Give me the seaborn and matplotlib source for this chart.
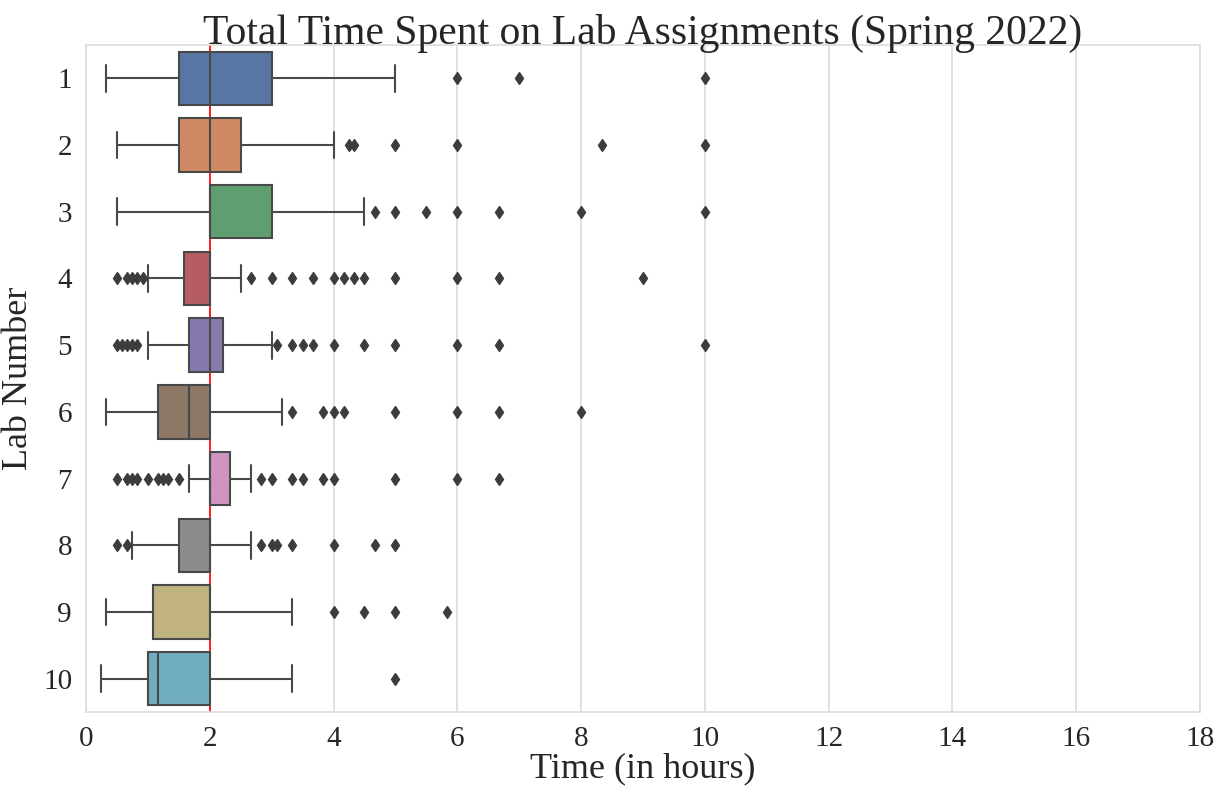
import numpy as np
import pandas as pd
import matplotlib
matplotlib.use("Agg")
import matplotlib.pyplot as plt
import seaborn as sns

# Lab assignments (Spring 2022): summary of hours spent per lab
labs = ["1", "2", "3", "4", "5", "6", "7", "8", "9", "10"]
whisker_low = [0.33, 0.5, 0.5, 1.0, 1.0, 0.33, 1.67, 0.75, 0.33, 0.25]
quartile_1 = [1.5, 1.5, 2.0, 1.58, 1.67, 1.17, 2.0, 1.5, 1.08, 1.0]
median = [2.0, 2.0, 2.0, 2.0, 2.0, 1.67, 2.0, 2.0, 2.0, 1.17]
quartile_3 = [3.0, 2.5, 3.0, 2.0, 2.22, 2.0, 2.33, 2.0, 2.0, 2.0]
whisker_high = [5.0, 4.0, 4.5, 2.5, 3.0, 3.17, 2.67, 2.67, 3.33, 3.33]
outliers = [
    [6.0, 7.0, 10.0],
    [4.25, 4.33, 5.0, 6.0, 8.33, 10.0],
    [4.67, 5.0, 5.5, 6.0, 6.67, 8.0, 10.0],
    [0.5, 0.67, 0.75, 0.83, 0.92,
     2.67, 3.0, 3.33, 3.67, 4.0, 4.17, 4.33, 4.5, 5.0, 6.0, 6.67, 9.0],
    [0.5, 0.58, 0.67, 0.75, 0.83,
     3.08, 3.33, 3.5, 3.67, 4.0, 4.5, 5.0, 6.0, 6.67, 10.0],
    [3.33, 3.83, 4.0, 4.17, 5.0, 6.0, 6.67, 8.0],
    [0.5, 0.67, 0.75, 0.83, 1.0, 1.17, 1.25, 1.33, 1.5,
     2.83, 3.0, 3.33, 3.5, 3.83, 4.0, 5.0, 6.0, 6.67],
    [0.5, 0.67, 2.83, 3.0, 3.08, 3.33, 4.0, 4.67, 5.0],
    [4.0, 4.5, 5.0, 5.83],
    [5.0],
]

# Each lab's records: every quartile level is held by an equal share of
# students, plus the whisker extremes and the individual outlying times.
share = 100
rows = []
for i, lab in enumerate(labs):
    times = ([whisker_low[i], whisker_high[i]]
             + [quartile_1[i]] * share
             + [median[i]] * share
             + [quartile_3[i]] * share
             + outliers[i])
    rows.extend((lab, t) for t in times)
df = pd.DataFrame(rows, columns=["Lab", "Hours"])

sns.set_theme(style="whitegrid")
plt.rcParams["font.family"] = ["Liberation Serif", "DejaVu Serif"]

fig, ax = plt.subplots(figsize=(12.25, 7.88), dpi=100)
fig.subplots_adjust(left=0.0702, right=0.9796, top=0.9429, bottom=0.0964)

ax.axvline(2, color="red", linewidth=1.2, zorder=1.5)
sns.boxplot(data=df, x="Hours", y="Lab", hue="Lab", order=labs,
            palette="deep", legend=False, orient="h", ax=ax,
            linewidth=1.5,
            flierprops=dict(marker="d", markersize=6,
                            markerfacecolor="#3c3c3c",
                            markeredgecolor="#3c3c3c"))

ax.set_xlim(0, 18)
ax.set_xticks(np.arange(0, 19, 2))
ax.grid(axis="y", visible=False)
ax.grid(axis="x", color="#dcdcdc", linewidth=1.2)
for s in ax.spines.values():
    s.set_color("#dcdcdc")
    s.set_linewidth(1.2)

ax.set_title("Total Time Spent on Lab Assignments (Spring 2022)",
             fontsize=30, pad=1)
ax.set_xlabel("Time (in hours)", fontsize=26, labelpad=0)
ax.set_ylabel("Lab Number", fontsize=26, labelpad=6)
ax.tick_params(axis="both", labelsize=21, pad=4)

fig.savefig("out.png", dpi=100)
